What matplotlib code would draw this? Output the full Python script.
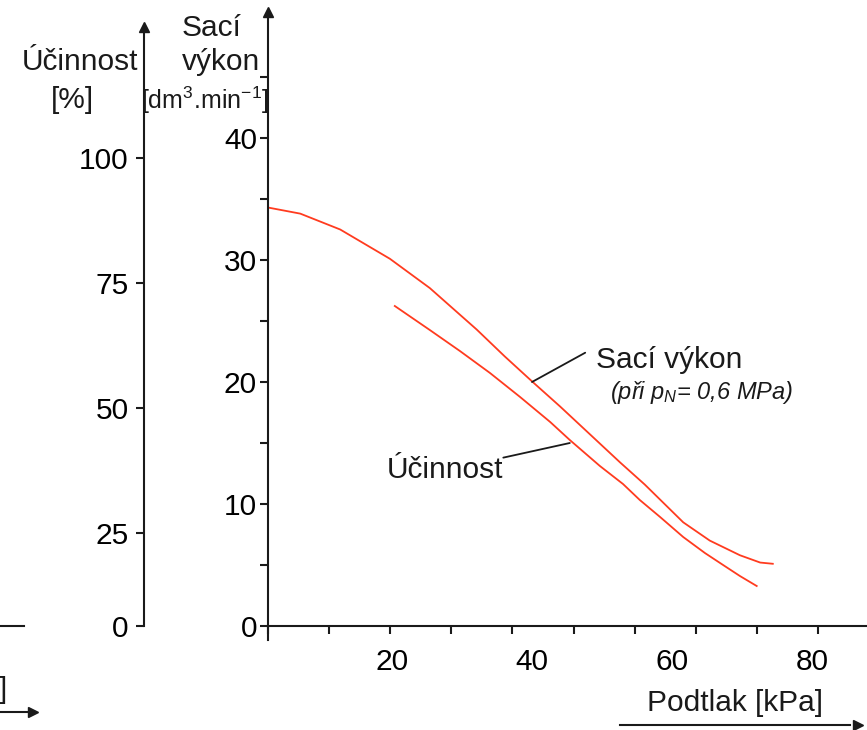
import matplotlib
matplotlib.use("Agg")
import matplotlib.pyplot as plt
from matplotlib.ticker import FixedLocator, MultipleLocator
from matplotlib.transforms import blended_transform_factory

plt.rcParams['font.family'] = ['Liberation Sans', 'DejaVu Sans']
plt.rcParams['mathtext.fontset'] = 'custom'
plt.rcParams['mathtext.rm'] = 'Liberation Sans'
plt.rcParams['mathtext.it'] = 'Liberation Sans:italic'

# data
kpa_vykon = [2.3, 6.9, 12.6, 19.7, 25.4, 32.1, 36.1, 40.1, 44.0, 48.3, 52.6,
             56.1, 61.6, 65.4, 69.7, 72.6, 74.4]
vykon = [34.3, 33.8, 32.5, 30.1, 27.7, 24.3, 22.1, 20.0, 18.0, 15.7, 13.4,
         11.6, 8.5, 7.0, 5.8, 5.2, 5.1]

kpa_ucinnost = [20.4, 25.4, 29.7, 34.0, 38.3, 42.6, 45.4, 49.7, 53.0, 55.4,
                58.3, 61.6, 64.7, 67.3, 69.7, 72.1]
ucinnost = [70.4, 65.6, 61.4, 57.0, 52.2, 47.2, 43.6, 38.4, 34.8, 31.6,
            28.2, 24.2, 21.0, 18.6, 16.4, 14.4]

vykon_ticks = [0, 10, 20, 30, 40]
ucinnost_ticks = [25, 50, 75, 100]
kpa_labels = [20, 40, 60, 80]

RED = '#ff3b1f'
INK = '#1a1a1a'
W, H = 867, 730
FS = 21.5


def fx(px):
    return px / W


def fy(py):
    return 1 - py / H


fig = plt.figure(figsize=(W / 100, H / 100), dpi=100)
ax = fig.add_axes([fx(268), fy(640), 1 - fx(268), fy(12) - fy(640)])
ax.patch.set_visible(False)

# pixel scale of the original drawing
x0, px_kpa = 252, 7.0          # x pixel of 0 kPa, px per kPa
y0, px_unit = 626, 12.2        # y pixel of 0 dm3/min, px per unit
ax.set_xlim((268 - x0) / px_kpa, (W - x0) / px_kpa)
ax.set_ylim((y0 - 640) / px_unit, (y0 - 12) / px_unit)

for s in ['top', 'right']:
    ax.spines[s].set_visible(False)
ax.spines['bottom'].set_position(('data', 0))
for s in ['left', 'bottom']:
    ax.spines[s].set_linewidth(1.5)
    ax.spines[s].set_color(INK)

ax.yaxis.set_major_locator(FixedLocator(vykon_ticks))
ax.yaxis.set_minor_locator(FixedLocator([5, 15, 25, 35, 45]))
ax.tick_params(axis='y', which='both', direction='out', length=6, width=1.5,
               color=INK, labelsize=FS, pad=2)

ax.xaxis.set_major_locator(FixedLocator(kpa_labels))
ax.xaxis.set_minor_locator(MultipleLocator(61.1 / px_kpa, offset=(268 - x0) / px_kpa))
ax.xaxis.remove_overlapping_locs = False
ax.tick_params(axis='x', which='major', length=0, labelsize=FS, pad=16)
ax.tick_params(axis='x', which='minor', direction='out', length=6, width=1.5, color=INK)

ax.plot(kpa_vykon, vykon, color=RED, lw=1.3)

# percent axis, drawn further left
axp = ax.twinx()
pct0 = 6.4                      # percent value at the x axis
pct_per_unit = px_unit / 5.0
lo, hi = ax.get_ylim()
axp.set_ylim(pct0 + pct_per_unit * lo, pct0 + pct_per_unit * hi)
for s in ['top', 'right', 'bottom']:
    axp.spines[s].set_visible(False)
axp.yaxis.tick_left()
axp.spines['left'].set_position(('axes', -(268 - 144) / (W - 268)))
axp.spines['left'].set_bounds(pct0, pct0 + pct_per_unit * (y0 - 27) / px_unit)
axp.spines['left'].set_linewidth(1.5)
axp.spines['left'].set_color(INK)
axp.yaxis.set_major_locator(FixedLocator([pct0] + ucinnost_ticks))
axp.set_yticklabels(['0'] + [str(t) for t in ucinnost_ticks])
axp.tick_params(axis='y', direction='out', length=6, width=1.5, color=INK,
                labelsize=FS, pad=5)

axp.plot(kpa_ucinnost, ucinnost, color=RED, lw=1.3)

# arrow heads on the vertical axes
ax.plot([0], [1], marker='^', ms=7, color=INK, transform=ax.transAxes, clip_on=False)
bt = blended_transform_factory(axp.transAxes, axp.transData)
axp.plot([-(268 - 144) / (W - 268)], [pct0 + pct_per_unit * (y0 - 27) / px_unit],
         marker='^', ms=7, color=INK, transform=bt, clip_on=False)

# leader lines and curve captions
ax.annotate('', xy=(40.0, 20.0), xytext=(47.6, 22.4),
            arrowprops=dict(arrowstyle='-', lw=1.3, color=INK, shrinkA=0, shrinkB=0))
ax.annotate('', xy=(45.4, 15.0), xytext=(35.9, 13.8),
            arrowprops=dict(arrowstyle='-', lw=1.3, color=INK, shrinkA=0, shrinkB=0))
fig.text(fx(596), fy(360), 'Sací výkon', fontsize=FS, va='center', ha='left', color=INK)
fig.text(fx(610), fy(393), r'(při $p_{N}$= 0,6 MPa)', fontsize=17, style='italic',
         va='center', ha='left', color=INK)
fig.text(fx(387), fy(470), 'Účinnost', fontsize=FS, va='center', ha='left', color=INK)

# axis titles
fig.text(fx(80), fy(62), 'Účinnost', fontsize=FS, ha='center', va='center', color=INK)
fig.text(fx(72), fy(100), '[%]', fontsize=FS, ha='center', va='center', color=INK)
fig.text(fx(182), fy(28), 'Sací', fontsize=FS, ha='left', va='center', color=INK)
fig.text(fx(182), fy(62), 'výkon', fontsize=FS, ha='left', va='center', color=INK)
fig.text(fx(205), fy(100), r'[dm$^{3}$.min$^{-1}$]', fontsize=18, ha='center',
         va='center', color=INK)

fig.text(fx(735), fy(703), 'Podtlak [kPa]', fontsize=FS, ha='center', va='center', color=INK)
fig.add_artist(plt.Line2D([fx(620), fx(850)], [fy(725), fy(725)], lw=1.5, color=INK))
fig.add_artist(plt.Line2D([fx(858)], [fy(725)], marker='>', ms=7, color=INK))

# remains of the neighbouring chart at the left edge
fig.add_artist(plt.Line2D([0, fx(24)], [fy(626), fy(626)], lw=1.5, color=INK))
fig.text(fx(7), fy(690), ']', fontsize=FS, ha='right', va='center', color=INK)
fig.add_artist(plt.Line2D([0, fx(28)], [fy(712), fy(712)], lw=1.5, color=INK))
fig.add_artist(plt.Line2D([fx(33)], [fy(712)], marker='>', ms=7, color=INK))

fig.savefig('out.png', dpi=100)
